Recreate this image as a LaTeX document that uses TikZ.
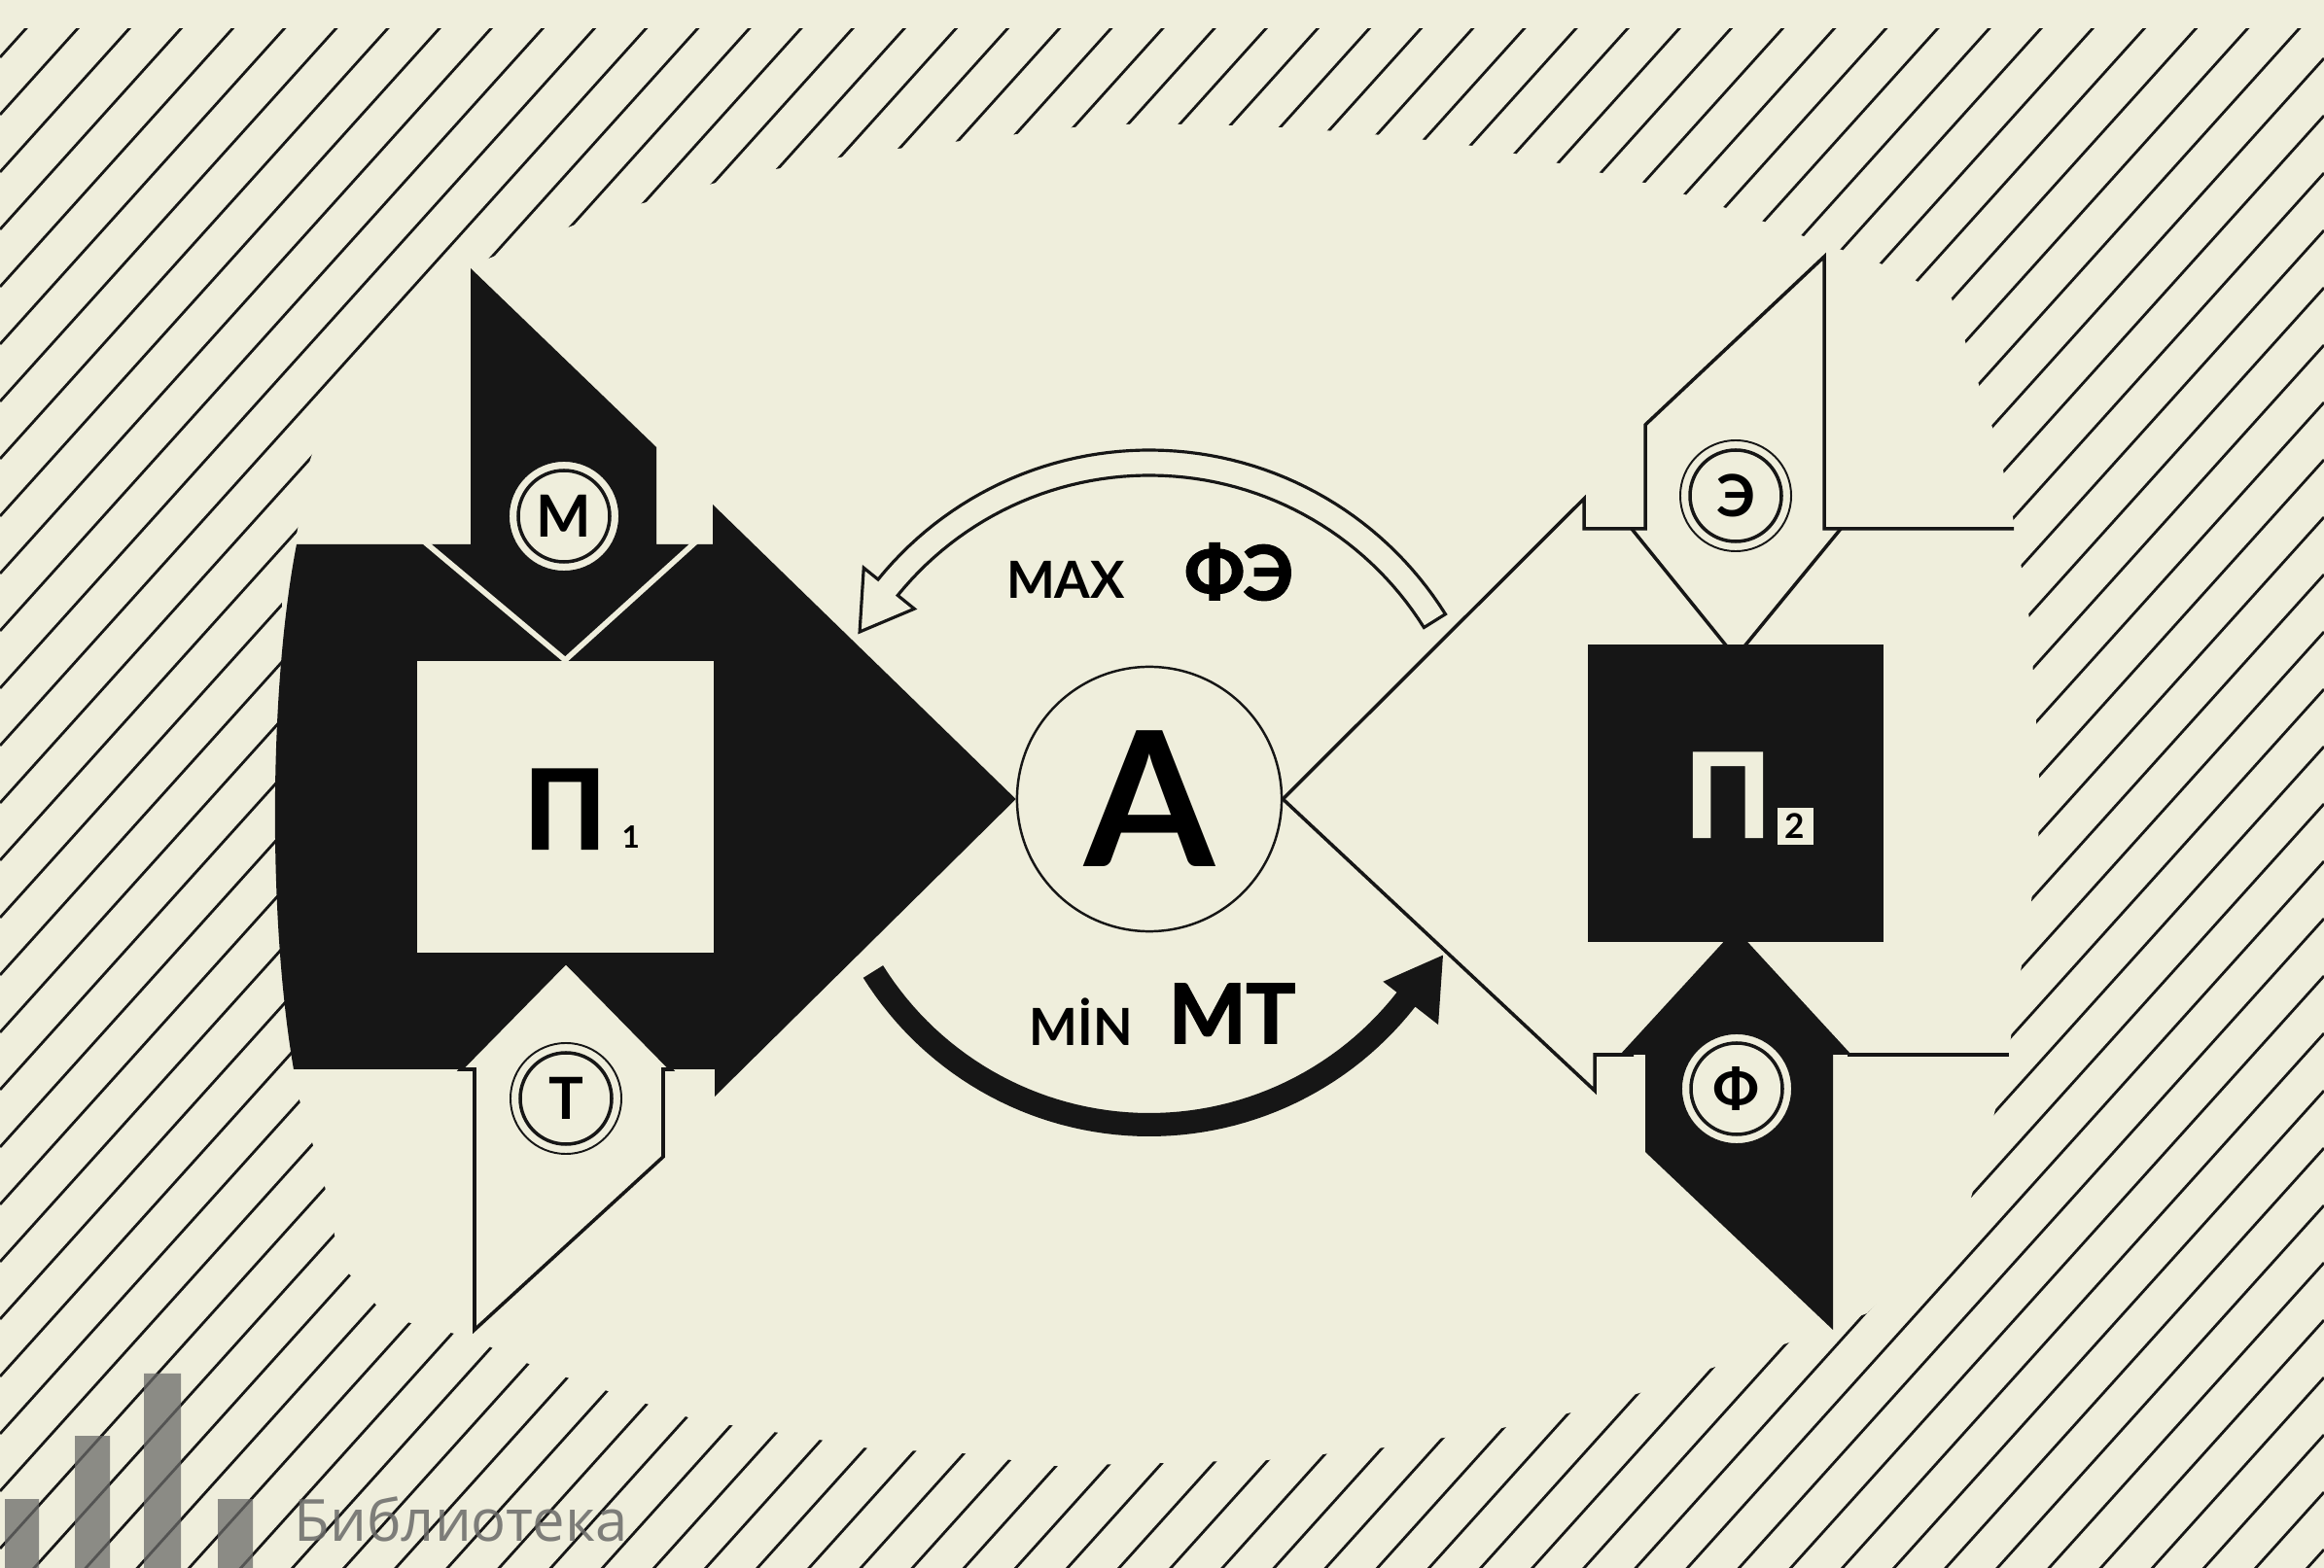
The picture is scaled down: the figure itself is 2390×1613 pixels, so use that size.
\documentclass[tikz,border=0pt]{standalone}
\usepackage{fontspec}
\setmainfont{Lato}
\newfontfamily\tyazh{Lato}[BoldFeatures={FakeBold=2}]
\newfontfamily\znakfont{Open Sans}
\usepackage{tikz}
\usetikzlibrary{calc}
\definecolor{fonKrem}{HTML}{EFEEDC}
\definecolor{tush}{HTML}{161616}
\definecolor{seryiZnak}{HTML}{6A6A68}

\begin{document}
\begin{tikzpicture}[x=0.01cm,y=-0.01cm,
  shtrikh/.style={tush,line width=0.8pt},
  kontur/.style={tush,line width=1pt,line join=miter},
  znak/.style={circle,draw=tush,line width=0.55pt,fill=fonKrem,minimum size=1.14cm,inner sep=0pt,
    font=\bfseries\fontsize{17}{17}\selectfont,
    path picture={\draw[tush,line width=1pt] (path picture bounding box.center) circle (47);}},
  nadpis/.style={inner sep=0pt,font=\bfseries\fontsize{#1}{#1}\selectfont},
  tyazhnadpis/.style={inner sep=0pt,font=\tyazh\bfseries\fontsize{#1}{#1}\selectfont}]
\fill[fonKrem] (0,0) rectangle (2390,1613);
\useasboundingbox (0,0) rectangle (2390,1613);
% штриховка по краям
\begin{scope}
\clip (0,30) rectangle (2390,1613);
\foreach \c in {0,59,...,4300} \draw[shtrikh] (0,\c)--(2390,\c-2654);
\end{scope}
\fill[fonKrem] (446,288) -- (615,222) -- (765,180) -- (891,157) -- (1013,142) -- (1130,128) -- (1236,128)
  -- (1337,132) -- (1434,140) -- (1530,152) -- (1621,172) -- (1708,192) -- (1784,217) -- (1860,245)
  -- (1936,272) -- (2007,307) -- (2030,380) -- (2055,459) -- (2073,547) -- (2088,643) -- (2097,794)
  -- (2096,880) -- (2083,966) -- (2063,1100) -- (2043,1175) -- (2023,1246) -- (1920,1351) -- (1837,1382)
  -- (1761,1407) -- (1686,1433) -- (1616,1453) -- (1540,1470) -- (1417,1490) -- (1303,1502) -- (1190,1505)
  -- (1083,1508) -- (991,1495) -- (894,1490) -- (808,1475) -- (714,1460) -- (628,1432) -- (553,1407)
  -- (480,1375) -- (398,1355) -- (350,1300) -- (333,1215) -- (307,1128) -- (290,1000) -- (290,620)
  -- (307,540) -- (319,473) -- (347,390) -- cycle;
% знак библиотеки
\fill[seryiZnak,opacity=0.75] (5,1542) rectangle (40,1613) (77,1477) rectangle (113,1613)
  (148,1413) rectangle (186,1613) (224,1542) rectangle (260,1613);
\node[seryiZnak,opacity=0.85,anchor=base west,inner sep=0pt,font=\znakfont\fontsize{17}{17}\selectfont] (biblio) at (302,1585) {Библиотека};

\node[circle,draw=tush,line width=0.7pt,fill=fonKrem,minimum size=2.72cm,inner sep=0pt,
  font=\bfseries\fontsize{55}{55}\selectfont] (A) at (1182,822) {А};

% П1: чёрное тело, стрелка к А
\fill[tush] (305,560) -- (484,560) -- (484,276) -- (675,460) -- (675,560) -- (733,560) -- (733,519)
  -- (A.west) -- (735,1128) -- (735,1100) -- (302,1100) .. controls (276,950) and (276,710) .. (305,560) -- cycle;
\node[fill=fonKrem,minimum width=3.05cm,minimum height=3cm,inner sep=0pt,anchor=north west] (P1) at (428,679) {};
\draw[fonKrem,line width=1.6pt,line join=miter] (436,557) -- (P1.north) -- (716,557); % наконечник М
\node[tyazhnadpis=32,anchor=base] (P1lab) at (581,873) {П};
\node[nadpis=9,anchor=base west] (P1idx) at (639,873) {1};
\filldraw[kontur,fill=fonKrem] (488,1368) -- (488,1100) -- (474,1100) -- (582,990) -- (690,1100)
  -- (682,1100) -- (682,1190) -- cycle; % стрелка Т
\node[znak] (M) at (580,531) {М};
\node[znak] (T) at (582,1130) {Т};

% П2 и контурная стрелка к А
\draw[kontur] (A.east) -- (1629,513) -- (1629,544) -- (1692,544) -- (1692,437) -- (1876,264) -- (1876,544) -- (2071,544);
\node[fill=tush,minimum width=3.04cm,minimum height=3.06cm,inner sep=0pt,anchor=north west] (P2) at (1632,662) {};
\draw[kontur] (1678,544) -- ([yshift=-4]P2.north) -- (1893,544);
\draw[kontur] (A.east) -- (1640,1122) -- (1640,1085) -- (1680,1085);
\fill[tush] (1692,1185) -- (1692,1085) -- (1666,1085) -- ([yshift=4]P2.south) -- (1904,1085) -- (1885,1085)
  -- (1885,1368) -- cycle; % стрелка Ф
\draw[kontur] (1900,1085) -- (2066,1085);
\node[tyazhnadpis=34,text=fonKrem,anchor=base] (P2lab) at (1777,861) {П};
\node[fill=fonKrem,minimum size=0.37cm,inner sep=0pt,font=\bfseries\fontsize{10}{10}\selectfont] (P2idx) at (1846,850) {2};
\node[znak] (E) at (1785,510) {Э};
\node[znak] (F) at (1786,1120) {Ф};

% дуги вокруг А
\begin{scope}[shift={(A.center)}]
\filldraw[tush,line width=0.9pt,fill=fonKrem,line join=miter] plot[domain=-32:-141,samples=60] (\x:359) -- (-141:378)
  -- (-150:344) -- (-141:311) -- plot[domain=-141:-32,samples=60] (\x:333) -- cycle;
\fill[tush] plot[domain=148:38,samples=60] (\x:347) -- (38:377) -- (28:342) -- (38:305)
  -- plot[domain=38:148,samples=60] (\x:323) -- cycle;
\end{scope}
\node[nadpis=15,anchor=base] (maxT) at (1096,616) {MAX};
\node[tyazhnadpis=22,anchor=base] (FE) at (1274,617) {ФЭ};
\node[nadpis=15,anchor=base] (minT) at (1112,1076) {MİN};
\node[tyazhnadpis=24,anchor=base] (MT) at (1267,1073) {МТ};
\end{tikzpicture}
\end{document}
